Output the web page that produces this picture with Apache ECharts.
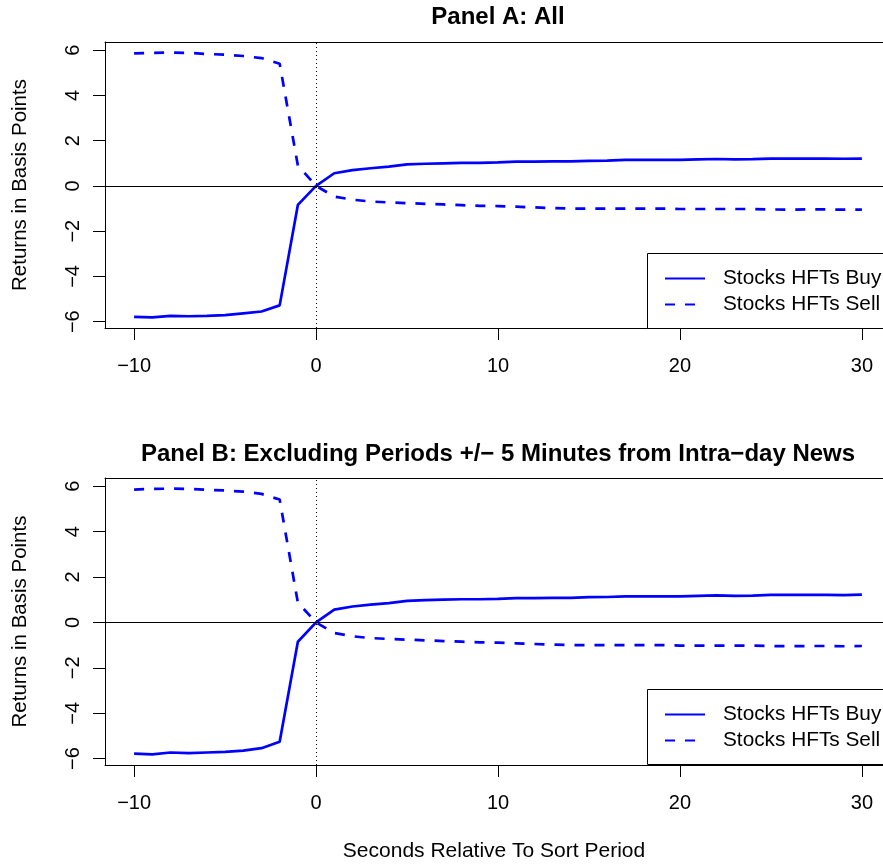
<!DOCTYPE html>
<html><head><meta charset="utf-8">
<script src="https://cdn.jsdelivr.net/npm/echarts@6/dist/echarts.min.js"></script>
<style>html,body{margin:0;padding:0;background:#fff}#c{width:883px;height:865px}</style>
</head><body><div id="c"></div>
<script>
const seconds = [-10,-9,-8,-7,-6,-5,-4,-3,-2,-1,0,1,2,3,4,5,6,7,8,9,10,11,12,13,14,15,16,17,18,19,20,21,22,23,24,25,26,27,28,29,30];
const panelABuy = [-5.79,-5.81,-5.74,-5.76,-5.74,-5.71,-5.63,-5.55,-5.28,-0.84,0,0.56,0.70,0.78,0.85,0.95,0.98,1.00,1.02,1.02,1.04,1.07,1.07,1.08,1.08,1.11,1.12,1.15,1.15,1.15,1.15,1.17,1.19,1.17,1.18,1.21,1.21,1.21,1.21,1.20,1.21];
const panelASell = [5.86,5.88,5.89,5.88,5.83,5.80,5.74,5.65,5.40,0.90,0,-0.47,-0.61,-0.69,-0.73,-0.76,-0.79,-0.82,-0.85,-0.88,-0.89,-0.92,-0.95,-0.98,-1.00,-1.00,-1.00,-1.00,-1.00,-1.00,-1.02,-1.02,-1.02,-1.02,-1.02,-1.04,-1.05,-1.04,-1.04,-1.05,-1.05];
const panelBBuy = [-5.78,-5.81,-5.73,-5.76,-5.73,-5.70,-5.65,-5.54,-5.26,-0.85,0,0.56,0.70,0.78,0.85,0.95,0.98,1.00,1.02,1.02,1.04,1.07,1.07,1.08,1.08,1.11,1.12,1.15,1.15,1.15,1.15,1.17,1.19,1.17,1.18,1.21,1.21,1.21,1.21,1.20,1.22];
const panelBSell = [5.85,5.88,5.89,5.88,5.84,5.81,5.76,5.66,5.41,0.87,0,-0.47,-0.61,-0.69,-0.73,-0.76,-0.79,-0.82,-0.85,-0.88,-0.89,-0.92,-0.95,-0.98,-1.00,-1.00,-1.00,-1.00,-1.00,-1.00,-1.02,-1.02,-1.02,-1.02,-1.02,-1.04,-1.05,-1.04,-1.04,-1.05,-1.04];
const xTicks = [-10,0,10,20,30];
const yTicks = [-6,-4,-2,0,2,4,6];
const panelTitles = ['Panel A: All', 'Panel B: Excluding Periods +/\u2212 5 Minutes from Intra\u2212day News'];
const seriesNames = ['Stocks HFTs Buy', 'Stocks HFTs Sell'];
const yTitle = 'Returns in Basis Points';
const xTitle = 'Seconds Relative To Sort Period';

const FONT = '"Liberation Sans", Arial, sans-serif';
const fmt = v => String(v).replace('-', '\u2212');
const pairs = arr => seconds.map((s, i) => [s, arr[i]]);

// plot area runs past the right edge of the page, as in the reference
const X_MIN = -11.6, X_MAX = 31.16;
const grids = [
  {left: 105, top: 42, width: 778, height: 286},
  {left: 105, top: 478, width: 778, height: 287}
];
const legendTops = [253, 689];
const titleTops = [5, 442];

const chart = echarts.init(document.getElementById('c'), null, {renderer: 'canvas'});

const baseX = (i) => ({
  type: 'value', gridIndex: i, min: X_MIN, max: X_MAX,
  splitLine: {show: false}
});

const option = {
  animation: false,
  backgroundColor: '#fff',
  textStyle: {fontFamily: FONT},
  title: panelTitles.map((t, i) => ({
    text: t, left: 498, top: titleTops[i], textAlign: 'center', padding: 0,
    textStyle: {fontFamily: FONT, fontSize: 24, fontWeight: 'bold', color: '#000'}
  })),
  grid: grids.map(g => Object.assign({show: false}, g)),
  graphic: legendTops.map(t => ({
    type: 'rect', z: 3, silent: true,
    shape: {x: 647.5, y: t + 0.5, width: 320, height: 75},
    style: {fill: '#fff', stroke: '#000', lineWidth: 1}
  })),
  legend: legendTops.map(t => ({
    data: seriesNames, orient: 'vertical', left: 647, top: t, z: 10,
    padding: [15, 10, 15, 17], itemGap: 5, itemWidth: 40, itemHeight: 20,
    borderWidth: 0, backgroundColor: 'transparent',
    selectedMode: false,
    itemStyle: {color: 'rgba(0,0,0,0)', borderWidth: 0, opacity: 0},
    textStyle: {fontFamily: FONT, fontSize: 20.8, color: '#000', padding: [0, 0, 0, 13], lineHeight: 20}
  })),
  xAxis: [
    ...[0, 1].map(i => Object.assign(baseX(i), {
      position: 'bottom',
      name: i === 1 ? xTitle : '', nameLocation: 'middle', nameGap: 76,
      nameTextStyle: {fontFamily: FONT, fontSize: 21, color: '#000'},
      axisLine: {show: true, onZero: false, lineStyle: {color: '#000', width: 1}},
      axisTick: {show: true, length: 12, customValues: xTicks, lineStyle: {color: '#000', width: 1}},
      axisLabel: {show: true, customValues: xTicks, formatter: fmt, fontFamily: FONT, fontSize: 20, color: '#000', margin: 28}
    })),
    ...[0, 1].map(i => Object.assign(baseX(i), {
      position: 'top',
      axisLine: {show: true, onZero: false, lineStyle: {color: '#000', width: 1}},
      axisTick: {show: false}, axisLabel: {show: false}
    }))
  ],
  yAxis: [0, 1].map(i => ({
    type: 'value', gridIndex: i, min: -6.28, max: 6.36,
    name: yTitle, nameLocation: 'middle', nameGap: 74,
    nameTextStyle: {fontFamily: FONT, fontSize: 20.5, color: '#000'},
    axisLine: {show: true, onZero: false, lineStyle: {color: '#000', width: 1}},
    axisTick: {show: true, length: 12, customValues: yTicks, lineStyle: {color: '#000', width: 1}},
    axisLabel: {show: true, customValues: yTicks, formatter: fmt, rotate: 90, fontFamily: FONT, fontSize: 20, color: '#000', margin: 22},
    splitLine: {show: false}
  })),
  series: []
};

const panels = [[panelABuy, panelASell], [panelBBuy, panelBSell]];
panels.forEach((p, i) => {
  option.series.push({
    name: seriesNames[0], type: 'line', xAxisIndex: i, yAxisIndex: i,
    data: pairs(p[0]), symbol: 'none', silent: true, color: '#0000ff',
    lineStyle: {color: '#0000ff', width: 2.7, type: 'solid'},
    markLine: {
      silent: true, symbol: ['none', 'none'], label: {show: false},
      data: [
        {yAxis: 0, lineStyle: {color: '#000', width: 1, type: 'solid'}},
        {xAxis: 0, lineStyle: {color: '#000', width: 1, type: [1, 3]}}
      ]
    }
  });
  option.series.push({
    name: seriesNames[1], type: 'line', xAxisIndex: i, yAxisIndex: i,
    data: pairs(p[1]), symbol: 'none', silent: true, color: '#0000ff',
    lineStyle: {color: '#0000ff', width: 2.7, type: [10, 10]}
  });
});

chart.setOption(option);
</script>
</body></html>
